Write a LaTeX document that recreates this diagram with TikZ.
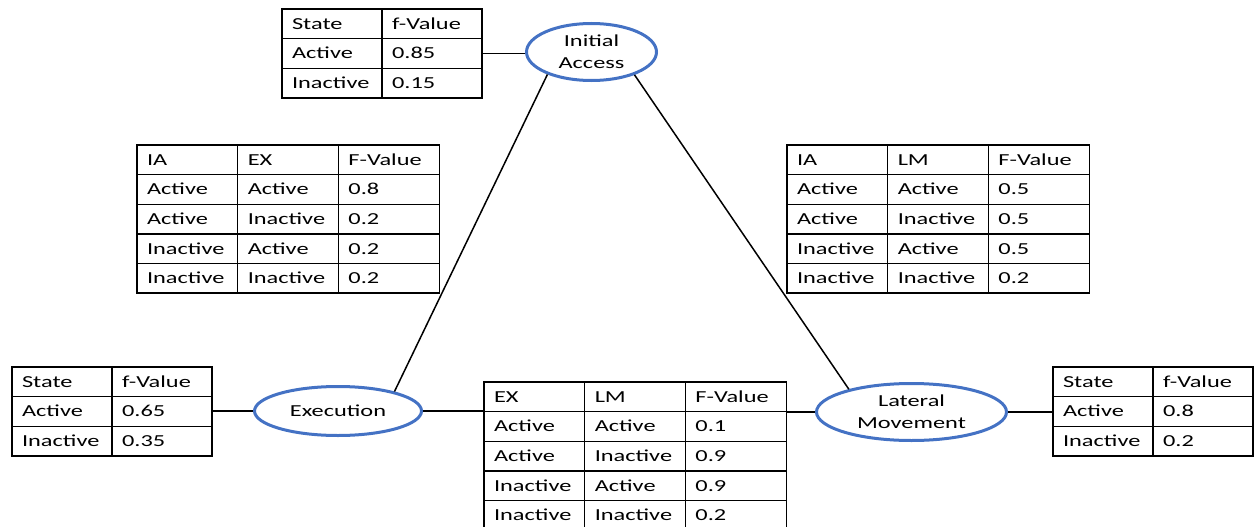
\documentclass[tikz,border=0pt]{standalone}
\usepackage{fontspec}
\setmainfont[FakeStretch=1.45]{Carlito}
\usetikzlibrary{matrix,shapes.geometric}
\definecolor{nodeblue}{HTML}{4472C4}
\tikzset{
  cellbase/.style={draw, line width=1.3pt, outer sep=0pt, inner xsep=10pt, inner ysep=0pt,
    minimum height=29.6pt, text height=10.8pt, text depth=0pt, align=left},
  narrowcell/.style={cellbase, text width=80pt},
  widecell/.style={cellbase, text width=80.7pt},
  cpt/.style={matrix of nodes, inner sep=0pt, outer sep=0pt, column sep=-1.3pt, row sep=-1.3pt,
    anchor=north west, nodes={narrowcell}},
  jointcpt/.style={matrix of nodes, inner sep=0pt, outer sep=0pt, column sep=-1.3pt, row sep=-1.3pt,
    anchor=north west, nodes={widecell}},
  event/.style={ellipse, draw=nodeblue, line width=3pt, inner sep=0pt, align=center,
    font=\fontsize{16.8}{22}\selectfont},
  link/.style={draw=black, line width=1.5pt}
}
\begin{document}
\begin{tikzpicture}[x=1pt, y=-1pt, font=\fontsize{16.8}{19}\selectfont]
\useasboundingbox (0,0) rectangle (1255,527);

% event nodes
\node[event, minimum width=130pt, minimum height=57pt] (ia) at (591.5,52) {Initial\\Access};
\node[event, minimum width=167pt, minimum height=49pt] (ex) at (338,411) {Execution};
\node[event, minimum width=190pt, minimum height=57pt] (lm) at (911.5,412) {Lateral\\Movement};

% prior tables
\matrix[cpt] (iatab) at (281.4,8.4) {
  State & f-Value \\
  Active & 0.85 \\
  Inactive & 0.15 \\
};
\matrix[cpt] (extab) at (11.4,366.4) {
  State & f-Value \\
  Active & 0.65 \\
  Inactive & 0.35 \\
};
\matrix[cpt] (lmtab) at (1052.4,366.4) {
  State & f-Value \\
  Active & 0.8 \\
  Inactive & 0.2 \\
};

% joint tables
\matrix[jointcpt] (iaex) at (136.4,144.4) {
  IA & EX & F-Value \\
  Active & Active & 0.8 \\
  Active & Inactive & 0.2 \\
  Inactive & Active & 0.2 \\
  Inactive & Inactive & 0.2 \\
};
\matrix[jointcpt] (ialm) at (786.4,144.4) {
  IA & LM & F-Value \\
  Active & Active & 0.5 \\
  Active & Inactive & 0.5 \\
  Inactive & Active & 0.5 \\
  Inactive & Inactive & 0.2 \\
};
\matrix[jointcpt] (exlm) at (483.4,381.4) {
  EX & LM & F-Value \\
  Active & Active & 0.1 \\
  Active & Inactive & 0.9 \\
  Inactive & Active & 0.9 \\
  Inactive & Inactive & 0.2 \\
};

% connectors
\draw[link] (iatab.east) -- (iatab.east -| ia.west);
\draw[link] (ex.west -| extab.east) -- (ex.west);
\draw[link] (lm.east) -- (lm.east -| lmtab.west);
\draw[link] (ex.east) -- (ex.east -| exlm.west);
\draw[link] (exlm.east |- lm.west) -- (lm.west);
\draw[link] (ia.207.8) -- (ex.19.3);
\draw[link] (ia.332.7) -- (lm.160.7);
\end{tikzpicture}
\end{document}
